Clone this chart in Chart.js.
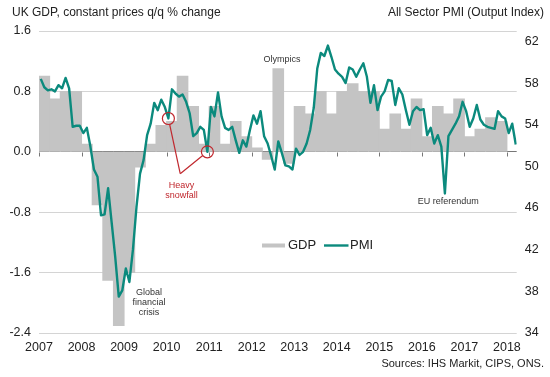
<!DOCTYPE html>
<html>
<head>
<meta charset="utf-8">
<script src="https://cdn.jsdelivr.net/npm/chart.js@4.4.1/dist/chart.umd.min.js"></script>
<style>
  html, body { margin: 0; padding: 0; background: #fff; }
  canvas { display: block; }
</style>
</head>
<body>
<canvas id="chart" width="550" height="377"></canvas>
<script>
// UK GDP, q/q % change, quarterly from 2007 Q1 to 2017 Q4
const startYear = 2007;
const gdpValues = [
  1.0, 0.7, 0.8, 0.8,      // 2007
  0.1, -0.7, -1.7, -2.3,   // 2008
  -1.6, -0.2, 0.1, 0.35,   // 2009
  0.4, 1.0, 0.6, 0.1,      // 2010
  0.6, 0.1, 0.4, 0.2,      // 2011
  0.05, -0.1, 1.1, -0.15,  // 2012
  0.6, 0.5, 0.8, 0.5,      // 2013
  0.8, 0.9, 0.8, 0.8,      // 2014
  0.3, 0.5, 0.3, 0.7,      // 2015
  0.2, 0.6, 0.5, 0.7,      // 2016
  0.2, 0.3, 0.45, 0.4      // 2017
];

// All sector PMI output index, monthly from Jan 2007 to Mar 2018
const pmiValues = [
  58.4, 57.6, 57.3, 57.4, 57.2, 57.8, 57.5, 58.5, 57.5, 53.8, 53.9, 53.9, // 2007
  53.2, 53.7, 51.9, 49.7, 49.0, 45.3, 45.4, 47.9, 44.6, 41.3, 37.5, 38.1, // 2008
  40.2, 38.9, 42.0, 46.1, 49.3, 50.6, 53.0, 54.1, 56.1, 55.4, 56.4, 55.7, // 2009
  54.6, 57.4, 57.0, 56.7, 56.9, 56.2, 55.1, 52.9, 53.2, 53.8, 53.5, 51.4, // 2010
  55.7, 54.8, 57.1, 54.8, 53.7, 53.5, 53.8, 52.5, 51.3, 52.5, 51.9, 53.5, // 2011
  54.9, 54.1, 55.3, 52.9, 52.2, 51.0, 49.7, 52.4, 51.3, 50.1, 50.0, 49.7, // 2012
  51.7, 51.1, 51.4, 52.2, 53.5, 55.6, 59.4, 60.9, 60.6, 61.6, 60.5, 59.3, // 2013
  58.9, 58.6, 58.0, 59.5, 59.3, 58.6, 59.3, 59.9, 58.6, 56.1, 57.8, 55.4, // 2014
  56.7, 57.2, 58.3, 58.2, 55.9, 57.5, 56.9, 55.4, 54.0, 55.3, 55.7, 55.4, // 2015
  55.5, 53.0, 53.7, 52.2, 53.0, 51.9, 47.4, 52.9, 53.5, 54.1, 54.8, 56.2, // 2016
  55.3, 53.8, 54.6, 55.9, 54.5, 54.0, 53.8, 53.7, 53.6, 55.3, 54.8, 54.6, // 2017
  53.2, 54.1, 52.1                                                        // 2018
];

const years = [2007, 2008, 2009, 2010, 2011, 2012, 2013, 2014, 2015, 2016, 2017, 2018];
const gdpTicks = [-2.4, -1.6, -0.8, 0, 0.8, 1.6];
const pmiTicks = [34, 38, 42, 46, 50, 54, 58, 62];

// heavy snowfall months (index into pmiValues): Jan 2010, Dec 2010
const snowMonths = [36, 47];

// text notes, anchored in data units (x = year, y = GDP scale)
const notes = [
  { lines: ['Olympics'], x: 2012.71, y: 1.22, color: '#333' },
  { lines: ['Heavy', 'snowfall'], x: 2010.35, y: -0.45, color: '#c0272d' },
  { lines: ['Global', 'financial', 'crisis'], x: 2009.585, y: -1.87, color: '#333' },
  { lines: ['EU referendum'], x: 2016.62, y: -0.66, color: '#333' }
];
const snowApex = { x: 2010.32, y: -0.29 };

const teal = '#0b8a7d';
const grey = '#c4c4c4';
const red = '#c0272d';
const textColor = '#222';
const font = "'Liberation Sans', Arial, sans-serif";

const gdpPoints = gdpValues.map((v, i) => ({ x: startYear + (i + 0.5) / 4, y: v }));
const pmiPoints = pmiValues.map((v, i) => ({ x: startYear + (i + 0.5) / 12, y: v }));

const extras = {
  id: 'extras',
  beforeDatasetsDraw(chart) {
    const { ctx, scales: { x, y } } = chart;
    // little year ticks hanging below the zero line
    const y0 = Math.round(y.getPixelForValue(0)) + 0.5;
    ctx.save();
    ctx.strokeStyle = '#777';
    ctx.lineWidth = 1;
    years.forEach(yr => {
      const px = Math.round(x.getPixelForValue(yr)) + 0.5;
      ctx.beginPath();
      ctx.moveTo(px, y0);
      ctx.lineTo(px, y0 + 4);
      ctx.stroke();
    });
    ctx.restore();
  },
  afterDraw(chart) {
    const { ctx, scales: { x, y, y2 } } = chart;
    ctx.save();

    // axis titles
    ctx.fillStyle = textColor;
    ctx.font = `12px ${font}`;
    ctx.textBaseline = 'middle';
    ctx.textAlign = 'left';
    ctx.fillText('UK GDP, constant prices q/q % change', 12, 13);
    ctx.textAlign = 'right';
    ctx.fillText('All Sector PMI (Output Index)', 544, 13);

    // sources
    ctx.font = `11px ${font}`;
    ctx.fillText('Sources: IHS Markit, CIPS, ONS.', 544, 364);

    // legend
    ctx.fillStyle = grey;
    ctx.fillRect(262, 243.5, 23, 4);
    ctx.strokeStyle = teal;
    ctx.lineWidth = 2.4;
    ctx.beginPath();
    ctx.moveTo(324, 245.5);
    ctx.lineTo(348.5, 245.5);
    ctx.stroke();
    ctx.fillStyle = textColor;
    ctx.textAlign = 'left';
    ctx.font = `13px ${font}`;
    ctx.fillText('GDP', 288, 245.5);
    ctx.fillText('PMI', 350, 245.5);

    // snowfall circles and pointer lines
    const ax = x.getPixelForValue(snowApex.x);
    const ay = y.getPixelForValue(snowApex.y);
    ctx.strokeStyle = red;
    ctx.lineWidth = 1.2;
    snowMonths.forEach(m => {
      const cx = x.getPixelForValue(pmiPoints[m].x);
      const cy = y2.getPixelForValue(pmiPoints[m].y);
      const r = 6;
      ctx.beginPath();
      ctx.arc(cx, cy, r, 0, Math.PI * 2);
      ctx.stroke();
      const d = Math.hypot(ax - cx, ay - cy);
      ctx.beginPath();
      ctx.moveTo(cx + (ax - cx) / d * r, cy + (ay - cy) / d * r);
      ctx.lineTo(ax, ay);
      ctx.stroke();
    });

    // notes
    ctx.font = `9px ${font}`;
    ctx.textAlign = 'center';
    notes.forEach(n => {
      ctx.fillStyle = n.color;
      const px = x.getPixelForValue(n.x);
      const py = y.getPixelForValue(n.y);
      n.lines.forEach((t, i) => ctx.fillText(t, px, py + i * 10));
    });

    ctx.restore();
  }
};

new Chart(document.getElementById('chart'), {
  type: 'bar',
  data: {
    datasets: [
      {
        type: 'line',
        label: 'PMI',
        data: pmiPoints,
        yAxisID: 'y2',
        borderColor: teal,
        borderWidth: 2.4,
        borderJoinStyle: 'round',
        pointRadius: 0,
        tension: 0,
        order: 0
      },
      {
        type: 'bar',
        label: 'GDP',
        data: gdpPoints,
        yAxisID: 'y',
        backgroundColor: grey,
        borderWidth: 0,
        barPercentage: 1,
        categoryPercentage: 1,
        inflateAmount: 0.5,
        order: 1
      }
    ]
  },
  options: {
    responsive: false,
    animation: false,
    devicePixelRatio: 1,
    layout: { padding: { top: 31, left: 0, right: 0, bottom: 0 } },
    plugins: {
      legend: { display: false },
      title: { display: false },
      tooltip: { enabled: false }
    },
    scales: {
      x: {
        type: 'linear',
        min: 2007,
        max: 2018.23,
        offset: false,
        grid: { display: false, drawTicks: false },
        border: { display: false },
        afterBuildTicks: s => { s.ticks = years.map(v => ({ value: v })); },
        afterFit: s => { s.height = 44; },
        ticks: {
          autoSkip: false,
          maxRotation: 0,
          padding: 7,
          color: textColor,
          font: { family: font, size: 12.5 },
          callback: v => String(v)
        }
      },
      y: {
        position: 'left',
        min: -2.4,
        max: 1.6,
        afterBuildTicks: s => { s.ticks = gdpTicks.map(v => ({ value: v })); },
        afterFit: s => { s.width = 39; },
        grid: {
          drawTicks: false,
          lineWidth: 1,
          color: c => (c.tick && c.tick.value === 0 ? '#777' : '#d4d4d4')
        },
        border: { display: false },
        ticks: {
          padding: 8,
          color: textColor,
          font: { family: font, size: 12.5 },
          callback: v => v.toFixed(1)
        }
      },
      y2: {
        position: 'right',
        min: 34,
        max: 63,
        afterBuildTicks: s => { s.ticks = pmiTicks.map(v => ({ value: v })); },
        afterFit: s => { s.width = 33.3; },
        grid: { display: false, drawTicks: false },
        border: { display: false },
        ticks: {
          padding: 8,
          color: textColor,
          font: { family: font, size: 12.5 },
          callback: v => String(v)
        }
      }
    }
  },
  plugins: [extras]
});
</script>
</body>
</html>
